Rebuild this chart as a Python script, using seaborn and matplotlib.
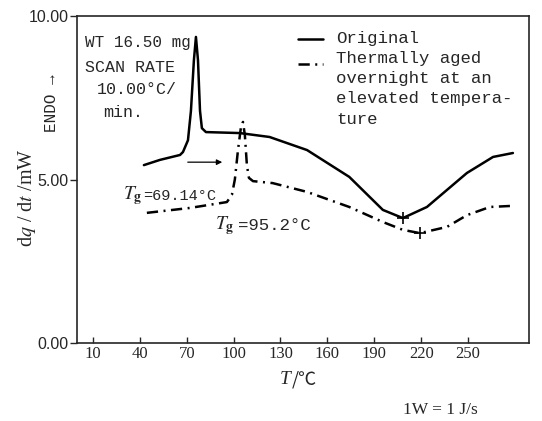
import matplotlib
matplotlib.use("Agg")
import matplotlib.pyplot as plt
from matplotlib.lines import Line2D
import seaborn as sns

# DSC traces: heat flow dq/dt (mW) against temperature T (°C)
t_original = [42.6, 52.9, 65.7, 67.6, 70.8, 72.7, 74.6, 75.9, 77.2, 78.5, 79.7,
              82.3, 104.0, 123.0, 147.0, 174.0, 195.5, 208.3, 223.7, 249.3,
              266.0, 278.7]
q_original = [5.44, 5.60, 5.75, 5.84, 6.20, 7.10, 8.65, 9.36, 8.65, 7.10, 6.57,
              6.45, 6.42, 6.30, 5.90, 5.08, 4.07, 3.82, 4.16, 5.20, 5.69, 5.81]

t_aged = [44.5, 72.0, 95.7, 98.9, 100.8, 102.8, 104.7, 106.0, 107.2, 108.5,
          109.8, 112.4, 125.0, 147.0, 174.0, 195.5, 208.3, 219.2, 236.5,
          249.3, 264.0, 276.8]
q_aged = [3.98, 4.13, 4.31, 4.53, 5.00, 5.90, 6.60, 6.76, 6.36, 5.44, 5.05,
          4.95, 4.89, 4.62, 4.16, 3.70, 3.46, 3.36, 3.55, 3.91, 4.16, 4.19]

# minima marked with a cross on each trace
min_t = [208.3, 219.2]
min_q = [3.82, 3.36]

x_ticks = [10, 40, 70, 100, 130, 160, 190, 220, 250]
y_ticks = [0, 5, 10]
y_tick_labels = ["0.00", "5.00", "10.00"]

W, H = 542, 421
sns.set_style("ticks")
plt.rcParams["mathtext.fontset"] = "stix"
plt.rcParams["font.family"] = ["DejaVu Sans"]

fig = plt.figure(figsize=(W / 100, H / 100), dpi=100)
ax = fig.add_axes([77 / W, 1 - 343 / H, (529 - 77) / W, (343 - 16) / H])

def fx(px):
    return px / W

def fy(py):
    return 1 - py / H

dashdot = (0, (4.5, 2.2, 0.8, 2.2))

sns.lineplot(x=t_original, y=q_original, ax=ax, color="black", lw=1.8,
             estimator=None, sort=False)
sns.lineplot(x=t_aged, y=q_aged, ax=ax, color="black", lw=1.8,
             estimator=None, sort=False, linestyle=dashdot)
ax.plot(min_t, min_q, linestyle="none", marker="+", color="black",
        markersize=9, markeredgewidth=1.2)

ax.set_xlim(-0.2, 289)
ax.set_ylim(0, 10)
ax.set_xticks(x_ticks)
ax.set_xticklabels([str(v) for v in x_ticks], family="Liberation Serif",
                   fontsize=12)
ax.set_yticks(y_ticks)
ax.set_yticklabels(y_tick_labels, family="Liberation Sans", fontsize=11.5)
ax.tick_params(axis="x", direction="in", length=4, width=1, pad=2)
ax.tick_params(axis="y", direction="out", length=5, width=1, pad=1)
for s in ax.spines.values():
    s.set_linewidth(1.2)
    s.set_visible(True)
ax.set_xlabel("")
ax.set_ylabel("")

mono = "Liberation Mono"

# sample annotations inside the plot
ax.text(4.9, 9.20, "WT 16.50 mg", family=mono, fontsize=11.5, va="center")
ax.text(4.9, 8.41, "SCAN RATE", family=mono, fontsize=12, va="center")
ax.text(12.6, 7.74, "10.00°C/", family=mono, fontsize=12, va="center")
ax.text(16.4, 7.06, "min.", family=mono, fontsize=12, va="center")

# shift of the transition
ax.annotate("", xy=(94.5, 5.53), xytext=(68.9, 5.53),
            arrowprops=dict(arrowstyle="-|>", color="black", lw=0.9,
                            mutation_scale=8))

ax.text(29.2, 4.50, r"$T_{\mathbf{g}}$", fontsize=14, va="center")
ax.text(42.0, 4.50, "=69.14°C", family=mono, fontsize=11, va="center")
ax.text(88.1, 3.58, r"$T_{\mathbf{g}}$", fontsize=14, va="center")
ax.text(102.8, 3.58, "=95.2°C", family=mono, fontsize=12.5, va="center")

# legend drawn beside the curves
fig.add_artist(Line2D([fx(298), fx(323)], [fy(39), fy(39)], color="black",
                      lw=1.8, transform=fig.transFigure))
fig.add_artist(Line2D([fx(298), fx(323)], [fy(64), fy(64)], color="black",
                      lw=1.8, linestyle=dashdot, transform=fig.transFigure))
legend_lines = ["Original", "Thermally aged", "overnight at an",
                "elevated tempera-", "ture"]
for i, line in enumerate(legend_lines):
    fig.text(fx(336), fy(39 + 20 * i), line, family=mono, fontsize=12.5,
             va="center")

# axis titles
fig.text(fx(52), fy(103), "ENDO →", family=mono, fontsize=11.5,
         rotation=90, ha="center", va="center")
fig.text(fx(27), fy(198), r"d$q$ / d$t$ /mW", family="Liberation Serif",
         fontsize=14.5, rotation=90, ha="center", va="center")
fig.text(fx(291), fy(380), "T", family="Liberation Serif", style="italic",
         fontsize=14, ha="right", va="center")
fig.text(fx(292), fy(380), "/℃", family=["Noto Sans CJK SC", "DejaVu Sans"],
         fontsize=13, ha="left", va="center")
fig.text(fx(440), fy(410), "1W = 1 J/s", family="Liberation Serif",
         fontsize=12.5, ha="center", va="center")

fig.savefig("out.png", dpi=100)
